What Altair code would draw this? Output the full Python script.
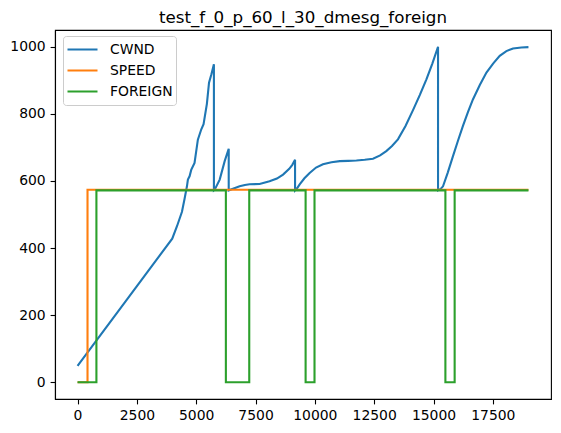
import altair as alt
import pandas as pd

TITLE = "test_f_0_p_60_l_30_dmesg_foreign"
SERIES = ["CWND", "SPEED", "FOREIGN"]
COLORS = ["#1f77b4", "#ff7f0e", "#2ca02c"]   # matplotlib tab10, slots 1-3

# ------------------------------------------------------------------ data
cwnd_x = [0, 2000, 3990, 4190, 4400, 4510, 4610, 4650, 4720, 4790,
          4930, 5070, 5215, 5310, 5450, 5540, 5640, 5746, 5746, 5780,
          5990, 6200, 6370, 6370, 6550, 6830, 7050, 7250, 7670, 8090,
          8400, 8660, 8920, 9050, 9165, 9165, 9250, 9360, 9560, 9780,
          10050, 10340, 10700, 11050, 11400, 11750, 12100, 12450, 12750, 13010,
          13250, 13500, 13820, 14140, 14420, 14700, 14950, 15190, 15190, 15300,
          15400, 15600, 15820, 16030, 16240, 16450, 16660, 16950, 17230, 17510,
          17790, 18070, 18350, 18700, 19000]
cwnd_y = [49, 239, 428, 465, 508, 547, 584, 604, 614, 633,
          654, 723, 754, 769, 830, 893, 918, 948, 572, 574,
          604, 659, 696, 572, 577, 584, 588, 590, 591, 599,
          607, 619, 636, 648, 663, 572, 578, 590, 608, 624,
          640, 650, 656, 659, 660, 661, 663, 666, 676, 689,
          704, 724, 764, 812, 856, 903, 950, 1000, 572, 576,
          584, 625, 674, 720, 764, 805, 843, 886, 923, 950,
          973, 987, 995, 998, 999]

speed_x = [0, 420, 420, 19000]
speed_y = [0, 0, 574, 574]

foreign_x = [0, 795, 795, 6250, 6250, 7235, 7235, 9610,
             9610, 9985, 9985, 15500, 15500, 15890, 15890, 19000]
foreign_y = [0, 0, 572, 572, 0, 0, 572, 572,
             0, 0, 572, 572, 0, 0, 572, 572]

x_ticks = [0, 2500, 5000, 7500, 10000, 12500, 15000, 17500]
y_ticks = [0, 200, 400, 600, 800, 1000]

FONT = "DejaVu Sans"


def frame(name, xs, ys):
    return pd.DataFrame({"t": xs, "value": ys, "series": name, "i": range(len(xs))})


axis_style = dict(
    grid=False, title=None, domainColor="black", domainWidth=1.1,
    tickColor="black", tickWidth=1.1, tickSize=4.9, labelPadding=4.9,
    labelFont=FONT, labelFontSize=13.9, labelColor="black", labelOverlap=False,
)

x_enc = alt.X("t:Q", scale=alt.Scale(domain=[-950, 19950], nice=False, zero=False),
              axis=alt.Axis(values=x_ticks, format="d", **axis_style))
y_enc = alt.Y("value:Q", scale=alt.Scale(domain=[-50, 1050], nice=False, zero=False),
              axis=alt.Axis(values=y_ticks, format="d", **axis_style))
color_enc = alt.Color(
    "series:N",
    scale=alt.Scale(domain=SERIES, range=COLORS),
    legend=alt.Legend(
        title=None, orient="none", legendX=8, legendY=6, values=SERIES,
        symbolType="stroke", symbolSize=900, symbolStrokeWidth=2.1,
        labelFont=FONT, labelFontSize=13.9, labelColor="black", labelOffset=11,
        strokeColor="#cccccc", fillColor="rgba(255,255,255,0.8)",
        cornerRadius=3, padding=3, rowPadding=0, clipHeight=21,
    ),
)


def line(df):
    return alt.Chart(df).mark_line(strokeWidth=2.1, strokeJoin="miter").encode(
        x=x_enc, y=y_enc, color=color_enc, order="i:Q")


chart = alt.layer(
    line(frame("CWND", cwnd_x, cwnd_y)),
    line(frame("SPEED", speed_x, speed_y)),
    line(frame("FOREIGN", foreign_x, foreign_y)),
).properties(
    width=496, height=369,
    title=alt.TitleParams(TITLE, font=FONT, fontSize=16.7, fontWeight="normal",
                          color="black", anchor="middle", offset=8, dy=4.5),
    autosize=alt.AutoSizeParams(type="none"),
    padding={"left": 47, "top": 22, "right": 2, "bottom": 30},
    background="white",
).configure_view(stroke="black", strokeWidth=1.1)

chart.save("out.html", embed_options={"renderer": "svg", "actions": False})
